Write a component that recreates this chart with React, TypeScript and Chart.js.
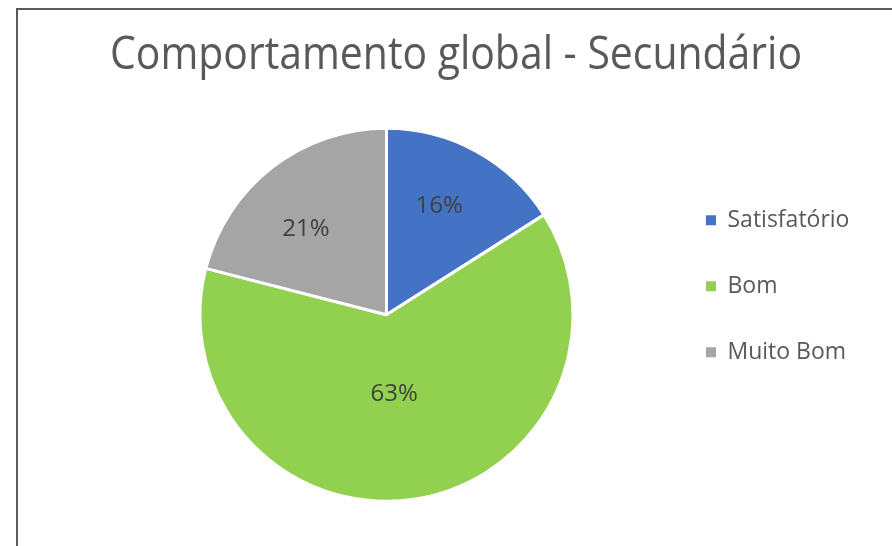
import { useEffect, useRef } from 'react';
import { Chart, registerables } from 'chart.js';

Chart.register(...registerables);

const titleText = 'Comportamento global - Secundário';
const categories = ['Satisfatório', 'Bom', 'Muito Bom'];
const values = [16, 63, 21];
const colors = ['#4472C4', '#92D050', '#A5A5A5'];
const labelRadius = [0.65, 0.43, 0.63];
const labelAngleAdjustDeg = [-3, 3.5, -5.5];

const FONT = '"Open Sans", "Noto Sans", sans-serif';

export default function App() {
  const ref = useRef<HTMLCanvasElement | null>(null);

  useEffect(() => {
    if (!ref.current) return;
    const total = values.reduce((a, b) => a + b, 0);

    const pctPlugin = {
      id: 'pctLabels',
      afterDatasetsDraw(chart: any) {
        const ctx = chart.ctx;
        const meta = chart.getDatasetMeta(0);
        ctx.save();
        ctx.font = `24px ${FONT}`;
        ctx.fillStyle = '#404040';
        ctx.textAlign = 'center';
        ctx.textBaseline = 'middle';
        meta.data.forEach((arc: any, i: number) => {
          const { x, y, startAngle, endAngle, outerRadius } = arc.getProps(
            ['x', 'y', 'startAngle', 'endAngle', 'outerRadius'],
            true
          );
          const mid = (startAngle + endAngle) / 2 + (labelAngleAdjustDeg[i] * Math.PI) / 180;
          const r = outerRadius * labelRadius[i];
          const pct = Math.round((values[i] / total) * 100) + '%';
          ctx.fillText(pct, x + Math.cos(mid) * r, y + Math.sin(mid) * r);
        });
        ctx.restore();
      },
    };

    // let the legend box extend to the right so its labels are not clipped
    const widenLegend = {
      id: 'widenLegend',
      afterLayout(chart: any) {
        const lg = chart.legend;
        if (lg) {
          lg.width = 240;
          lg.right = lg.left + 240;
        }
      },
    };

    const baseGen = (Chart as any).overrides.pie.plugins.legend.labels.generateLabels;

    const chart = new Chart(ref.current, {
      type: 'pie',
      data: {
        labels: categories,
        datasets: [
          {
            data: values,
            backgroundColor: colors,
            borderColor: '#ffffff',
            borderWidth: 3,
          },
        ],
      },
      options: {
        responsive: false,
        animation: false,
        layout: { padding: { left: 92, right: 90, top: 0, bottom: 43.2 } },
        plugins: {
          title: {
            display: true,
            text: titleText,
            color: '#595959',
            font: { family: FONT, size: 45, weight: 'normal' },
            padding: { top: 19.2, bottom: 43.6 },
          },
          legend: {
            display: true,
            position: 'right',
            align: 'start',
            fullSize: false,
            maxWidth: 139,
            title: {
              display: true,
              text: ' ',
              color: 'rgba(0,0,0,0)',
              font: { family: FONT, size: 20 },
              padding: { top: 0, bottom: 15 },
            },
            labels: {
              color: '#595959',
              font: { family: FONT, size: 23 },
              boxWidth: 10,
              boxHeight: 10,
              padding: 43,
              generateLabels: (c: any) =>
                baseGen(c).map((l: any) => ({ ...l, lineWidth: 0 })),
            },
          },
          tooltip: { enabled: false },
        },
      } as any,
      plugins: [pctPlugin, widenLegend],
    });

    return () => chart.destroy();
  }, []);

  return (
    <div
      style={{
        position: 'fixed',
        inset: 0,
        overflow: 'hidden',
        background: '#ffffff',
      }}
    >
      <div
        style={{
          position: 'absolute',
          left: 16,
          top: 8,
          width: 900,
          height: 600,
          borderLeft: '2px solid #595959',
          borderTop: '2px solid #595959',
        }}
      >
        <canvas
          ref={ref}
          width={874}
          height={536}
          style={{ position: 'absolute', left: 0, top: 0, width: 874, height: 536 }}
        />
      </div>
    </div>
  );
}
